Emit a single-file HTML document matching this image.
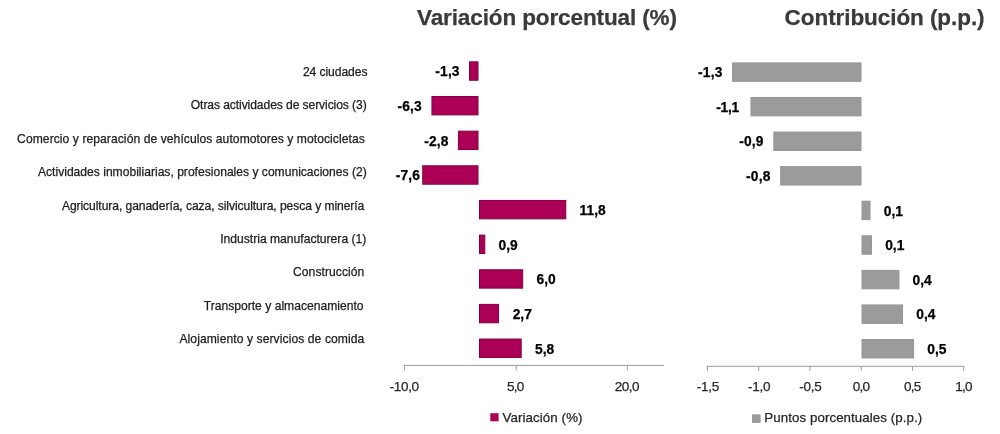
<!DOCTYPE html>
<html lang="es">
<head>
<meta charset="utf-8">
<title>Variación porcentual y contribución</title>
<style>
html,body{margin:0;padding:0;background:#fff;}
body{width:1000px;height:434px;position:relative;overflow:hidden;font-family:"Liberation Sans", Arial, sans-serif;}
svg{position:absolute;left:0;top:0;}
.t{position:absolute;white-space:nowrap;line-height:1;margin:0;padding:0;-webkit-text-stroke:0.25px currentColor;}
</style>
</head>
<body>
<svg width="1000" height="434" viewBox="0 0 1000 434">
<line x1="403.80" y1="365.40" x2="664.00" y2="365.40" stroke="#9c9c9c" stroke-width="1"/>
<line x1="404.40" y1="365.40" x2="404.40" y2="370.40" stroke="#9c9c9c" stroke-width="1"/>
<line x1="516.25" y1="365.40" x2="516.25" y2="370.40" stroke="#9c9c9c" stroke-width="1"/>
<line x1="627.30" y1="365.40" x2="627.30" y2="370.40" stroke="#9c9c9c" stroke-width="1"/>
<line x1="706.80" y1="366.30" x2="964.10" y2="366.30" stroke="#9c9c9c" stroke-width="1"/>
<line x1="707.45" y1="366.30" x2="707.45" y2="370.90" stroke="#9c9c9c" stroke-width="1"/>
<line x1="758.70" y1="366.30" x2="758.70" y2="370.90" stroke="#9c9c9c" stroke-width="1"/>
<line x1="809.95" y1="366.30" x2="809.95" y2="370.90" stroke="#9c9c9c" stroke-width="1"/>
<line x1="861.20" y1="366.30" x2="861.20" y2="370.90" stroke="#9c9c9c" stroke-width="1"/>
<line x1="912.45" y1="366.30" x2="912.45" y2="370.90" stroke="#9c9c9c" stroke-width="1"/>
<line x1="963.70" y1="366.30" x2="963.70" y2="370.90" stroke="#9c9c9c" stroke-width="1"/>
<rect x="469.54" y="61.85" width="8.46" height="18.40" fill="#AC0057" stroke="#82003F" stroke-width="1"/>
<rect x="431.95" y="96.50" width="46.05" height="18.40" fill="#AC0057" stroke="#82003F" stroke-width="1"/>
<rect x="458.40" y="131.15" width="19.60" height="18.40" fill="#AC0057" stroke="#82003F" stroke-width="1"/>
<rect x="422.73" y="165.80" width="55.27" height="18.40" fill="#AC0057" stroke="#82003F" stroke-width="1"/>
<rect x="479.50" y="200.45" width="86.27" height="18.40" fill="#AC0057" stroke="#82003F" stroke-width="1"/>
<rect x="479.50" y="235.10" width="5.29" height="18.40" fill="#AC0057" stroke="#82003F" stroke-width="1"/>
<rect x="479.50" y="269.75" width="43.18" height="18.40" fill="#AC0057" stroke="#82003F" stroke-width="1"/>
<rect x="479.50" y="304.40" width="19.03" height="18.40" fill="#AC0057" stroke="#82003F" stroke-width="1"/>
<rect x="479.50" y="339.05" width="41.69" height="18.40" fill="#AC0057" stroke="#82003F" stroke-width="1"/>
<rect x="732.64" y="62.90" width="128.36" height="18.40" fill="#9B9B9B" stroke="#959595" stroke-width="1"/>
<rect x="750.99" y="97.48" width="110.01" height="18.40" fill="#9B9B9B" stroke="#959595" stroke-width="1"/>
<rect x="773.85" y="132.06" width="87.15" height="18.40" fill="#9B9B9B" stroke="#959595" stroke-width="1"/>
<rect x="780.62" y="166.64" width="80.38" height="18.40" fill="#9B9B9B" stroke="#959595" stroke-width="1"/>
<rect x="862.00" y="201.22" width="8.02" height="18.40" fill="#9B9B9B" stroke="#959595" stroke-width="1"/>
<rect x="862.00" y="235.80" width="9.46" height="18.40" fill="#9B9B9B" stroke="#959595" stroke-width="1"/>
<rect x="862.00" y="270.38" width="36.92" height="18.40" fill="#9B9B9B" stroke="#959595" stroke-width="1"/>
<rect x="862.00" y="304.96" width="40.51" height="18.40" fill="#9B9B9B" stroke="#959595" stroke-width="1"/>
<rect x="862.00" y="339.54" width="51.58" height="18.40" fill="#9B9B9B" stroke="#959595" stroke-width="1"/>
<rect x="490.3" y="413.2" width="8.3" height="8.1" fill="#AC0057"/>
<rect x="752" y="414.3" width="8.6" height="8.6" fill="#9B9B9B"/>
</svg>
<div class="t" style="left:417.00px;top:7.00px;font-size:22.5px;color:#3a3a3a;font-weight:700;letter-spacing:-0.111px;">Variación porcentual (%)</div>
<div class="t" style="left:784.60px;top:7.00px;font-size:22.5px;color:#3a3a3a;font-weight:700;letter-spacing:-0.068px;">Contribución (p.p.)</div>
<div class="t" style="left:302.90px;top:66.00px;font-size:12.1px;color:#1c1c1c;letter-spacing:-0.063px;">24 ciudades</div>
<div class="t" style="left:190.80px;top:99.00px;font-size:12.1px;color:#1c1c1c;letter-spacing:-0.088px;">Otras actividades de servicios (3)</div>
<div class="t" style="left:17.10px;top:133.00px;font-size:12.1px;color:#1c1c1c;letter-spacing:0.070px;">Comercio y reparación de vehículos automotores y motocicletas</div>
<div class="t" style="left:38.00px;top:166.00px;font-size:12.1px;color:#1c1c1c;">Actividades inmobiliarias, profesionales y comunicaciones (2)</div>
<div class="t" style="left:61.90px;top:200.00px;font-size:12.1px;color:#1c1c1c;letter-spacing:-0.071px;">Agricultura, ganadería, caza, silvicultura, pesca y minería</div>
<div class="t" style="left:220.20px;top:233.00px;font-size:12.1px;color:#1c1c1c;letter-spacing:0.009px;">Industria manufacturera (1)</div>
<div class="t" style="left:293.00px;top:266.00px;font-size:12.1px;color:#1c1c1c;letter-spacing:0.064px;">Construcción</div>
<div class="t" style="left:203.70px;top:300.00px;font-size:12.1px;color:#1c1c1c;letter-spacing:0.014px;">Transporte y almacenamiento</div>
<div class="t" style="left:179.40px;top:333.00px;font-size:12.1px;color:#1c1c1c;letter-spacing:0.086px;">Alojamiento y servicios de comida</div>
<div class="t" style="left:435.34px;top:65.00px;font-size:13.8px;color:#000000;font-weight:700;letter-spacing:0.140px;">-1,3</div>
<div class="t" style="left:397.45px;top:100.00px;font-size:13.8px;color:#000000;font-weight:700;letter-spacing:0.140px;">-6,3</div>
<div class="t" style="left:424.20px;top:135.00px;font-size:13.8px;color:#000000;font-weight:700;letter-spacing:0.140px;">-2,8</div>
<div class="t" style="left:395.80px;top:169.00px;font-size:13.8px;color:#000000;font-weight:700;letter-spacing:0.140px;">-7,6</div>
<div class="t" style="left:579.57px;top:204.00px;font-size:13.8px;color:#000000;font-weight:700;letter-spacing:0.035px;">11,8</div>
<div class="t" style="left:498.59px;top:239.00px;font-size:13.8px;color:#000000;font-weight:700;">0,9</div>
<div class="t" style="left:536.48px;top:273.00px;font-size:13.8px;color:#000000;font-weight:700;">6,0</div>
<div class="t" style="left:512.70px;top:308.00px;font-size:13.8px;color:#000000;font-weight:700;">2,7</div>
<div class="t" style="left:534.99px;top:343.00px;font-size:13.8px;color:#000000;font-weight:700;">5,8</div>
<div class="t" style="left:698.05px;top:66.00px;font-size:13.8px;color:#000000;font-weight:700;letter-spacing:0.173px;">-1,3</div>
<div class="t" style="left:716.19px;top:101.00px;font-size:13.8px;color:#000000;font-weight:700;letter-spacing:-0.260px;">-1,1</div>
<div class="t" style="left:739.25px;top:135.00px;font-size:13.8px;color:#000000;font-weight:700;letter-spacing:0.173px;">-0,9</div>
<div class="t" style="left:746.02px;top:170.00px;font-size:13.8px;color:#000000;font-weight:700;letter-spacing:0.173px;">-0,8</div>
<div class="t" style="left:883.72px;top:205.00px;font-size:13.8px;color:#000000;font-weight:700;">0,1</div>
<div class="t" style="left:885.16px;top:239.00px;font-size:13.8px;color:#000000;font-weight:700;">0,1</div>
<div class="t" style="left:912.62px;top:274.00px;font-size:13.8px;color:#000000;font-weight:700;">0,4</div>
<div class="t" style="left:916.21px;top:308.00px;font-size:13.8px;color:#000000;font-weight:700;">0,4</div>
<div class="t" style="left:927.28px;top:343.00px;font-size:13.8px;color:#000000;font-weight:700;">0,5</div>
<div class="t" style="left:389.70px;top:380.00px;font-size:13.5px;color:#262626;letter-spacing:-0.345px;">-10,0</div>
<div class="t" style="left:506.95px;top:380.00px;font-size:13.5px;color:#262626;letter-spacing:-0.691px;">5,0</div>
<div class="t" style="left:614.80px;top:380.00px;font-size:13.5px;color:#262626;letter-spacing:-0.560px;">20,0</div>
<div class="t" style="left:696.75px;top:380.00px;font-size:13.5px;color:#262626;letter-spacing:-0.289px;">-1,5</div>
<div class="t" style="left:748.00px;top:380.00px;font-size:13.5px;color:#262626;letter-spacing:-0.289px;">-1,0</div>
<div class="t" style="left:799.25px;top:380.00px;font-size:13.5px;color:#262626;letter-spacing:-0.289px;">-0,5</div>
<div class="t" style="left:852.70px;top:380.00px;font-size:13.5px;color:#262626;letter-spacing:-0.691px;">0,0</div>
<div class="t" style="left:903.95px;top:380.00px;font-size:13.5px;color:#262626;letter-spacing:-0.691px;">0,5</div>
<div class="t" style="left:955.20px;top:380.00px;font-size:13.5px;color:#262626;letter-spacing:-0.691px;">1,0</div>
<div class="t" style="left:502.50px;top:411.00px;font-size:13.3px;color:#262626;letter-spacing:0.098px;">Variación (%)</div>
<div class="t" style="left:764.30px;top:411.00px;font-size:13.3px;color:#262626;letter-spacing:0.081px;">Puntos porcentuales (p.p.)</div>
</body>
</html>
